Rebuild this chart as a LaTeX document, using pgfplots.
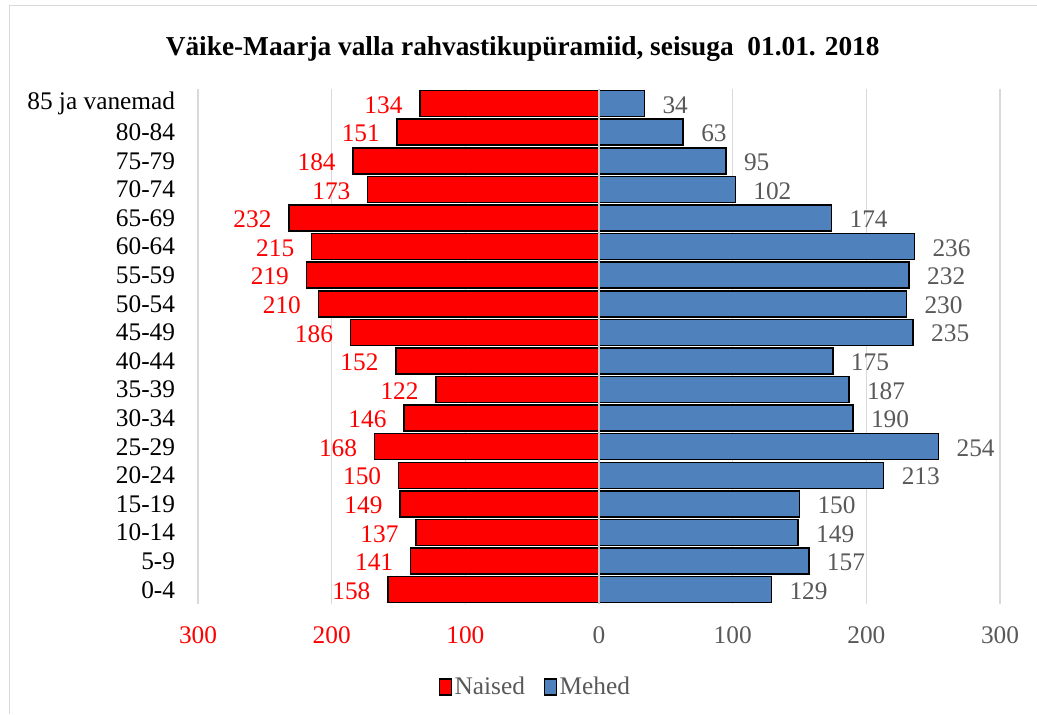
\documentclass[border=0pt]{standalone}
\usepackage{fontspec}
\setmainfont{Liberation Serif}
\usepackage{pgfplots}
\pgfplotsset{compat=1.18}
\definecolor{fem}{HTML}{FF0000}
\definecolor{mal}{HTML}{4F81BD}
\definecolor{lab}{HTML}{595959}
\definecolor{grd}{HTML}{D9D9D9}
\definecolor{zer}{HTML}{C8C8C8}
\begin{document}
\begin{tikzpicture}
\begin{axis}[
  at={(148.5pt,82.5pt)}, anchor=south west,
  scale only axis, width=601.5pt, height=386pt,
  xbar, bar shift=0pt, bar width=19.5pt,
  xmin=-300, xmax=300, ymin=-0.5, ymax=17.5,
  ytick={0,...,17},
  yticklabels={0-4,5-9,10-14,15-19,20-24,25-29,30-34,35-39,40-44,45-49,50-54,55-59,60-64,65-69,70-74,75-79,80-84,85 ja vanemad},
  xtick={-300,-200,-100,0,100,200,300},
  xticklabels={\textcolor{fem}{300},\textcolor{fem}{200},\textcolor{fem}{100},0,100,200,300},
  axis line style={draw=none}, major tick length=0pt,
  xmajorgrids, ymajorgrids=false, grid style={grd, line width=1.1pt},
  tick label style={font=\fontsize{19}{22}\selectfont},
  yticklabel style={anchor=east, inner sep=0pt, xshift=-17pt, text=black},
  xticklabel style={anchor=center, inner sep=0pt, yshift=-23.25pt, text=lab},
  /pgf/number format/assume math mode=true,
  point meta=explicit symbolic,
  nodes near coords,
  nodes near coords style={font=\fontsize{19}{22}\selectfont, inner sep=0pt, yshift=-1pt},
  legend columns=2,
  legend style={at={(0.421,-0.161)}, anchor=center, draw=none, fill=none,
    font=\fontsize{19}{22}\selectfont, text=lab,
    /tikz/every even column/.append style={column sep=12pt}},
  legend image code/.code={\draw[#1, line width=1pt] (0pt,-6pt) rectangle (9pt,6pt);},
  clip=false,
]
\addplot[fill=fem, draw=black, line width=1.1pt,
  every node near coord/.append style={anchor=east, xshift=-12.5pt, text=fem}]
coordinates {
(-158,0) [158] (-141,1) [141] (-137,2) [137] (-149,3) [149] (-150,4) [150]
(-168,5) [168] (-146,6) [146] (-122,7) [122] (-152,8) [152] (-186,9) [186]
(-210,10) [210] (-219,11) [219] (-215,12) [215] (-232,13) [232] (-173,14) [173]
(-184,15) [184] (-151,16) [151] (-134,17) [134]
};
\addlegendentry{Naised}
\addplot[fill=mal, draw=black, line width=1.1pt,
  every node near coord/.append style={anchor=west, xshift=13pt, text=lab}]
coordinates {
(129,0) [129] (157,1) [157] (149,2) [149] (150,3) [150] (213,4) [213]
(254,5) [254] (190,6) [190] (187,7) [187] (175,8) [175] (235,9) [235]
(230,10) [230] (232,11) [232] (236,12) [236] (174,13) [174] (102,14) [102]
(95,15) [95] (63,16) [63] (34,17) [34]
};
\addlegendentry{Mehed}
\draw[zer, line width=1.1pt] (axis cs:0,-0.5) -- (axis cs:0,17.5);
\end{axis}
\node[font=\fontsize{20.5}{24}\selectfont\bfseries, anchor=center] at (392pt,499pt)
  {Väike-Maarja valla rahvastikupüramiid, seisuga \ 01.01. 2018};
\draw[grd, line width=1.1pt] (7.1pt,0pt) -- (7.1pt,531.4pt) -- (777.75pt,531.4pt);
\pgfresetboundingbox
\useasboundingbox (0,0) rectangle (777.75pt,535.5pt);
\end{tikzpicture}
\end{document}
